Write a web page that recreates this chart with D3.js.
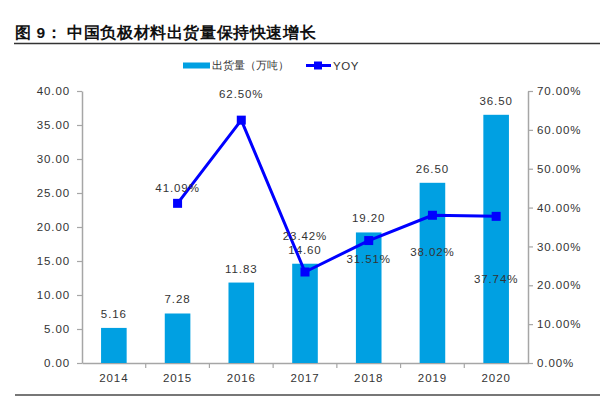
<!DOCTYPE html>
<html>
<head>
<meta charset="utf-8">
<title>中国负极材料出货量</title>
<style>
  body { margin: 0; background: #fff; }
  text { font-family: "Liberation Sans", Arial, sans-serif; }
</style>
</head>
<body>
<div id="chart"></div>
<script src="https://cdn.jsdelivr.net/npm/d3@7"></script>
<script>
// data
var years = ["2014", "2015", "2016", "2017", "2018", "2019", "2020"];
var shipments = [5.16, 7.28, 11.83, 14.60, 19.20, 26.50, 36.50];   // 万吨
var yoy = [null, 41.09, 62.50, 23.42, 31.51, 38.02, 37.74];        // %
var leftTicks = [0, 5, 10, 15, 20, 25, 30, 35, 40];
var rightTicks = [0, 10, 20, 30, 40, 50, 60, 70];

// yoy label nudges (the source had them hand placed)
var yoyLabelDy = [0, -15, -26, -36, 18, 37, 63];

var W = 600, H = 399;
var margin = {left: 82, right: 72, top: 91, bottom: 36};
var barColor = "#00A0E2", lineColor = "#0000FF";
var textColor = "#333333", axisColor = "#A6A6A6";

var svg = d3.select("#chart").append("svg")
  .attr("width", W).attr("height", H);

// title + rules
svg.append("text")
  .attr("x", 15).attr("y", 38)
  .attr("font-family", "'Noto Sans CJK SC', sans-serif")
  .attr("font-weight", "bold")
  .attr("font-size", "15.5px")
  .attr("letter-spacing", "0.6px")
  .attr("fill", "#111")
  .text("图 9： 中国负极材料出货量保持快速增长");
svg.append("line").attr("x1", 14).attr("x2", 600).attr("y1", 43.5).attr("y2", 43.5)
  .attr("stroke", "#333").attr("stroke-width", 1.5);
svg.append("line").attr("x1", 15).attr("x2", 600).attr("y1", 395).attr("y2", 395)
  .attr("stroke", "#777").attr("stroke-width", 2);

var x = d3.scaleBand().domain(years).range([margin.left, W - margin.right]);
var yL = d3.scaleLinear().domain([0, 40]).range([H - margin.bottom, margin.top]);
var yR = d3.scaleLinear().domain([0, 70]).range([H - margin.bottom, margin.top]);
var barW = 25.6;

function styleAxis(g) {
  g.select(".domain").attr("stroke", axisColor).attr("stroke-width", 1.5);
  g.selectAll(".tick line").attr("stroke", axisColor).attr("stroke-width", 1.2);
  g.selectAll("text").attr("fill", textColor)
    .attr("font-family", "'Liberation Sans', Arial, sans-serif")
    .attr("font-size", "11.5px").attr("letter-spacing", "0.9px");
}

// left axis
svg.append("g").attr("transform", "translate(" + margin.left + ",0)")
  .call(d3.axisLeft(yL).tickValues(leftTicks).tickFormat(d3.format(".2f"))
    .tickSizeInner(5).tickSizeOuter(0).tickPadding(7))
  .call(styleAxis);

// right axis
svg.append("g").attr("transform", "translate(" + (W - margin.right) + ",0)")
  .call(d3.axisRight(yR).tickValues(rightTicks).tickFormat(function(d) { return d.toFixed(2) + "%"; })
    .tickSizeInner(5).tickSizeOuter(0).tickPadding(4))
  .call(styleAxis);

// bottom axis: ticks sit on the band boundaries
var xAxis = svg.append("g").attr("transform", "translate(0," + (H - margin.bottom) + ")")
  .call(d3.axisBottom(x).tickSize(0).tickPadding(11))
  .call(styleAxis);
xAxis.selectAll(".bound").data(years.slice(1)).enter().append("line")
  .attr("x1", function(d) { return x(d); }).attr("x2", function(d) { return x(d); })
  .attr("y1", 0).attr("y2", 5)
  .attr("stroke", axisColor).attr("stroke-width", 1.2);

// bars
svg.selectAll(".bar").data(shipments).enter().append("rect")
  .attr("class", "bar")
  .attr("x", function(d, i) { return x(years[i]) + x.bandwidth() / 2 - barW / 2; })
  .attr("y", function(d) { return yL(d); })
  .attr("width", barW)
  .attr("height", function(d) { return yL(0) - yL(d); })
  .attr("fill", barColor);

svg.selectAll(".barlabel").data(shipments).enter().append("text")
  .attr("x", function(d, i) { return x(years[i]) + x.bandwidth() / 2; })
  .attr("y", function(d) { return yL(d) - 10; })
  .attr("text-anchor", "middle")
  .attr("font-size", "11.5px").attr("letter-spacing", "0.9px")
  .attr("fill", textColor)
  .text(function(d) { return d.toFixed(2); });

// yoy line
var pts = yoy.map(function(v, i) { return {v: v, i: i}; }).filter(function(p) { return p.v !== null; });
var line = d3.line()
  .x(function(p) { return x(years[p.i]) + x.bandwidth() / 2; })
  .y(function(p) { return yR(p.v); });
svg.append("path").datum(pts)
  .attr("d", line).attr("fill", "none")
  .attr("stroke", lineColor).attr("stroke-width", 3).attr("stroke-linejoin", "round");
svg.selectAll(".mark").data(pts).enter().append("rect")
  .attr("x", function(p) { return x(years[p.i]) + x.bandwidth() / 2 - 4.5; })
  .attr("y", function(p) { return yR(p.v) - 4.5; })
  .attr("width", 9).attr("height", 9)
  .attr("fill", lineColor);
svg.selectAll(".yoylabel").data(pts).enter().append("text")
  .attr("x", function(p) { return x(years[p.i]) + x.bandwidth() / 2; })
  .attr("y", function(p) { return yR(p.v) + yoyLabelDy[p.i] + 4; })
  .attr("text-anchor", "middle")
  .attr("font-size", "11.5px").attr("letter-spacing", "0.9px")
  .attr("fill", textColor)
  .text(function(p) { return p.v.toFixed(2) + "%"; });

// legend
var lg = svg.append("g");
lg.append("rect").attr("x", 183).attr("y", 62.5).attr("width", 27).attr("height", 6).attr("fill", barColor);
lg.append("text").attr("x", 212).attr("y", 69)
  .attr("font-family", "'Noto Sans CJK SC', sans-serif")
  .attr("font-size", "10.5px").attr("fill", textColor)
  .text("出货量（万吨）");
lg.append("line").attr("x1", 306).attr("x2", 331).attr("y1", 65.5).attr("y2", 65.5)
  .attr("stroke", lineColor).attr("stroke-width", 3);
lg.append("rect").attr("x", 314).attr("y", 61.5).attr("width", 8).attr("height", 8).attr("fill", lineColor);
lg.append("text").attr("x", 333).attr("y", 70)
  .attr("font-size", "11.5px").attr("letter-spacing", "0.6px")
  .attr("fill", textColor)
  .text("YOY");
</script>
</body>
</html>
